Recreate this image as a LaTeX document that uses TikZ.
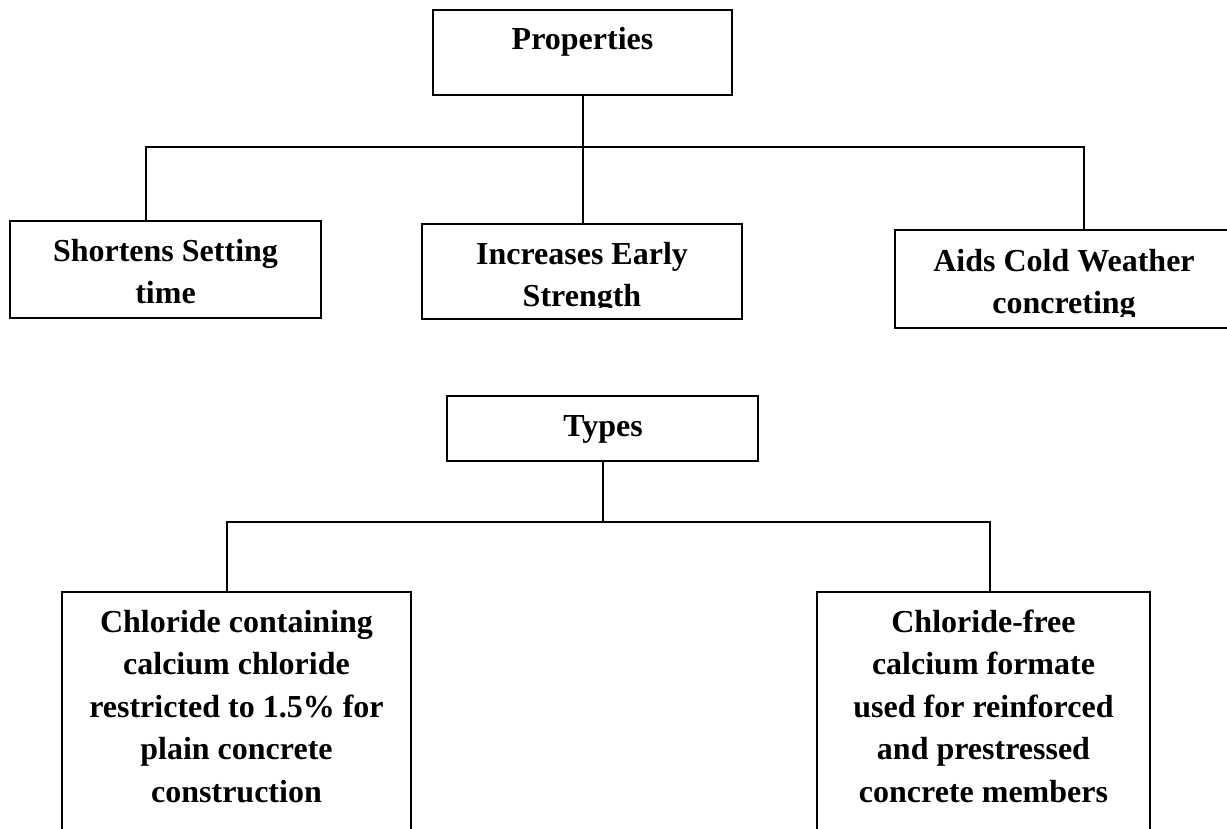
\documentclass[tikz,border=0pt]{standalone}
\usepackage{fontspec}
\setmainfont{Liberation Serif}
\begin{document}
\begin{tikzpicture}[x=1pt,y=-1pt,
  box/.style={draw, line width=1.4pt, rectangle, inner sep=0pt},
  lbl/.style={font=\fontsize{32}{42}\selectfont\bfseries, align=center, anchor=base, inner sep=0pt},
  conn/.style={line width=1.4pt}]
\useasboundingbox (0,0) rectangle (1227,829);

% boxes
\node[box, minimum width=299pt, minimum height=85pt] (prop) at (582.5,52.5) {};
\node[box, minimum width=311pt, minimum height=97pt] (left) at (165.5,269.5) {};
\node[box, minimum width=320pt, minimum height=95pt] (mid) at (582,271.5) {};
\node[box, minimum width=350pt, minimum height=98pt] (right) at (1070,279) {};
\node[box, minimum width=311pt, minimum height=65pt] (types) at (602.5,428.5) {};
\node[box, minimum width=349pt, minimum height=268pt] (bl) at (236.5,726) {};
\node[box, minimum width=333pt, minimum height=268pt] (br) at (983.5,726) {};

% texts (base anchor = baseline of the last line)
\node[lbl] (tprop) at (582.5,50) {Properties};
\node[lbl] (tleft) at (165.5,303) {Shortens Setting\\time};
\begin{scope}
  \clip (mid.north west) rectangle ([yshift=12pt]mid.south east);
  \node[lbl] (tmid) at (582,306) {Increases Early\\Strength};
\end{scope}
\begin{scope}
  \clip (right.north west) rectangle ([yshift=12pt]right.south east);
  \node[lbl] (tright) at (1064,313) {Aids Cold Weather\\concreting};
\end{scope}
\node[lbl] (ttypes) at (603,436) {Types};
\node[lbl, font=\fontsize{32}{42.5}\selectfont\bfseries] (tbl) at (236.5,802)
  {Chloride containing\\calcium chloride\\restricted to 1.5\% for\\plain concrete\\construction};
\node[lbl, font=\fontsize{32}{42.5}\selectfont\bfseries] (tbr) at (983.5,802)
  {Chloride-free\\calcium formate\\used for reinforced\\and prestressed\\concrete members};

% connectors (top)
\coordinate (jl) at (146,147);
\coordinate (jr) at (1084,147);
\coordinate (jm) at (583,147);
\draw[conn] (prop.south -| jm) -- (jm |- mid.north);
\draw[conn] (jl |- left.north) -- (jl) -- (jr) -- (jr |- right.north);

% connectors (bottom)
\coordinate (kl) at (227,522);
\coordinate (kr) at (990,522);
\coordinate (km) at (603,522);
\draw[conn] (types.south -| km) -- (km);
\draw[conn] (kl |- bl.north) -- (kl) -- (kr) -- (kr |- br.north);
\end{tikzpicture}
\end{document}
